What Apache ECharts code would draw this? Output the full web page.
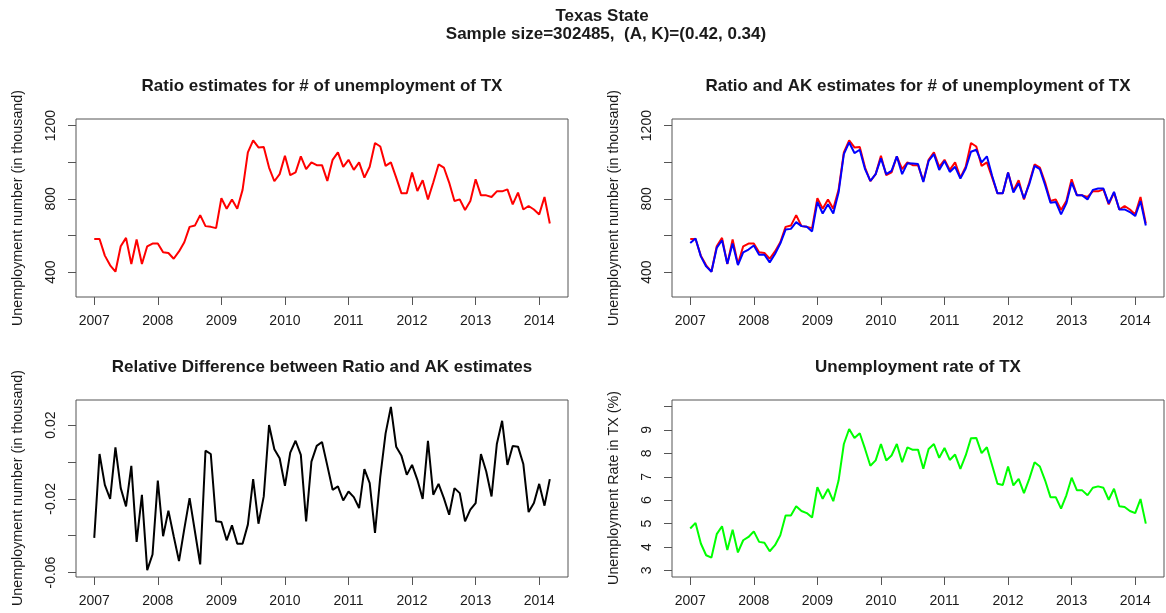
<!DOCTYPE html>
<html>
<head>
<meta charset="utf-8">
<script src="https://cdn.jsdelivr.net/npm/echarts@6/dist/echarts.min.js"></script>
<style>
html,body{margin:0;padding:0;background:#fff;}
#chart{width:1166px;height:613px;}
</style>
</head>
<body>
<div id="chart"></div>
<script>
// Monthly series, Jan 2007 .. Mar 2014
const startYear = 2007;
const yearTicks = [2007, 2008, 2009, 2010, 2011, 2012, 2013, 2014];

const ratioEst = [
  581, 581, 490, 437, 402, 541, 587, 444, 578, 444, 541, 556,
  556, 508, 504, 473, 513, 563, 647, 654, 711, 651, 647, 640,
  803, 746, 797, 746, 849, 1054, 1119, 1081, 1083, 971, 896, 935,
  1035, 929, 944, 1032, 962, 999, 984, 984, 898, 1013, 1054, 975,
  1013, 958, 999, 916, 975, 1105, 1086, 980, 999, 916, 830, 830,
  944, 843, 902, 797, 889, 988, 971, 889, 788, 797, 739, 788,
  907, 819, 819, 810, 841, 841, 852, 770, 834, 742, 761, 742,
  715, 810, 665
];

const akEst = [
  559, 583, 486, 431, 402, 532, 574, 446, 556, 438, 508, 523,
  545, 495, 495, 453, 499, 556, 632, 636, 673, 651, 647, 622,
  783, 720, 770, 720, 834, 1044, 1108, 1050, 1068, 962, 898, 935,
  1021, 935, 953, 1032, 935, 995, 993, 990, 892, 1007, 1044, 958,
  1007, 947, 975, 911, 966, 1057, 1068, 999, 1032, 925, 830, 830,
  944, 834, 885, 803, 880, 980, 962, 874, 779, 783, 715, 775,
  889, 819, 819, 797, 849, 856, 856, 775, 838, 742, 742, 728,
  706, 788, 654
];

const relDiff = [
  -0.0412, 0.0043, -0.0124, -0.0201, 0.0079, -0.0142, -0.0241, -0.0021, -0.0434, -0.0178, -0.0587, -0.0502,
  -0.0101, -0.0403, -0.0264, -0.0403, -0.0538, -0.0363, -0.0196, -0.0376, -0.0556, 0.0061, 0.0043, -0.0322,
  -0.0326, -0.0425, -0.0344, -0.0444, -0.0444, -0.0340, -0.0093, -0.0335, -0.0187, 0.0200, 0.0069, 0.0020,
  -0.0129, 0.0051, 0.0115, 0.0038, -0.0322, 0.0002, 0.0087, 0.0108, -0.0020, -0.0151, -0.0133, -0.0209,
  -0.0160, -0.0191, -0.0250, -0.0039, -0.0115, -0.0385, -0.0079, 0.0155, 0.0299, 0.0083, 0.0033, -0.0070,
  -0.0016, -0.0097, -0.0201, 0.0114, -0.0178, -0.0119, -0.0196, -0.0286, -0.0142, -0.0169, -0.0322, -0.0259,
  -0.0223, 0.0043, -0.0052, -0.0187, 0.0097, 0.0223, -0.0016, 0.0087, 0.0083, -0.0011, -0.0272, -0.0223,
  -0.0119, -0.0237, -0.0093
];

const unempRate = [
  4.79, 5.03, 4.15, 3.65, 3.55, 4.55, 4.89, 3.87, 4.74, 3.77, 4.29, 4.43,
  4.67, 4.22, 4.18, 3.82, 4.08, 4.50, 5.35, 5.35, 5.74, 5.54, 5.45, 5.26,
  6.56, 6.06, 6.48, 5.96, 6.84, 8.40, 9.04, 8.66, 8.86, 8.19, 7.47, 7.70,
  8.40, 7.70, 7.91, 8.40, 7.62, 8.26, 8.15, 8.16, 7.34, 8.19, 8.40, 7.81,
  8.23, 7.72, 7.95, 7.34, 7.91, 8.65, 8.66, 8.01, 8.26, 7.48, 6.70, 6.65,
  7.44, 6.63, 6.91, 6.30, 6.91, 7.62, 7.44, 6.84, 6.13, 6.13, 5.64, 6.21,
  6.96, 6.42, 6.42, 6.21, 6.53, 6.59, 6.53, 6.02, 6.49, 5.74, 5.71, 5.54,
  5.45, 6.05, 5.00
];

const countTicks = [400, 600, 800, 1000, 1200];
const countLabels = [400, 800, 1200];
const diffTicks = [-0.06, -0.04, -0.02, 0, 0.02];
const diffLabels = [-0.06, -0.02, 0.02];
const rateTicks = [3, 4, 5, 6, 7, 8, 9, 10];
const rateLabels = [3, 4, 5, 6, 7, 8, 9];

const mainTitle1 = 'Texas State';
const mainTitle2 = 'Sample size=302485,  (A, K)=(0.42, 0.34)';
const panelTitles = [
  'Ratio estimates for # of unemployment of TX',
  'Ratio and AK estimates for # of unemployment of TX',
  'Relative Difference between Ratio and AK estimates',
  'Unemployment rate of TX'
];
const yNames = [
  'Unemployment number (in thousand)',
  'Unemployment number (in thousand)',
  'Unemployment number (in thousand)',
  'Unemployment Rate in TX (%)'
];

const FONT = "'Liberation Sans', Arial, sans-serif";
const TXT = '#1a1a1a';
const AX = '#555';

const toXY = arr => arr.map((v, i) => [startYear + i / 12, v]);

const grids = [
  {left: 76, top: 119, width: 492, height: 178},
  {left: 672, top: 119, width: 492, height: 178},
  {left: 76, top: 400, width: 492, height: 177},
  {left: 672, top: 400, width: 492, height: 177}
];

function xAxisDef(gi) {
  return {
    type: 'value', gridIndex: gi, min: 2006.713, max: 2014.453, position: 'bottom',
    axisLine: {show: false, onZero: false},
    splitLine: {show: false},
    axisTick: {show: true, inside: false, length: 8, customValues: yearTicks, lineStyle: {color: AX, width: 1}},
    axisLabel: {show: true, customValues: yearTicks, margin: 17, color: TXT, fontSize: 14, fontFamily: FONT,
      formatter: v => String(Math.round(v))}
  };
}
function yAxisDef(gi, min, max, ticks, labels, fmt) {
  return {
    type: 'value', gridIndex: gi, min: min, max: max, position: 'left',
    axisLine: {show: false, onZero: false},
    splitLine: {show: false},
    axisTick: {show: true, inside: false, length: 8, customValues: ticks, lineStyle: {color: AX, width: 1}},
    axisLabel: {show: true, customValues: labels, rotate: 90, margin: 18, color: TXT, fontSize: 14, fontFamily: FONT,
      formatter: fmt}
  };
}

const graphics = [
  {type: 'text', x: 602, y: 16, style: {text: mainTitle1, font: "bold 17px " + FONT, fill: TXT, textAlign: 'center', textVerticalAlign: 'middle'}},
  {type: 'text', x: 606, y: 34, style: {text: mainTitle2, font: "bold 17px " + FONT, fill: TXT, textAlign: 'center', textVerticalAlign: 'middle'}}
];
const titlePos = [[322, 86], [918, 86], [322, 367], [918, 367]];
const yNamePos = [[18, 208], [614, 208], [18, 488], [614, 488]];
for (let k = 0; k < 4; k++) {
  graphics.push({type: 'text', x: titlePos[k][0], y: titlePos[k][1],
    style: {text: panelTitles[k], font: "bold 17px " + FONT, fill: TXT, textAlign: 'center', textVerticalAlign: 'middle'}});
  graphics.push({type: 'text', x: yNamePos[k][0], y: yNamePos[k][1], rotation: Math.PI / 2,
    style: {text: yNames[k], font: "14.3px " + FONT, fill: TXT, textAlign: 'center', textVerticalAlign: 'middle'}});
}

const lineSeries = (name, data, color, gi) => ({
  name: name, type: 'line', xAxisIndex: gi, yAxisIndex: gi, data: toXY(data),
  showSymbol: false, symbol: 'none', smooth: false,
  lineStyle: {color: color, width: 2}, itemStyle: {color: color},
  emphasis: {disabled: true}, silent: true
});

const option = {
  animation: false,
  backgroundColor: '#fff',
  grid: grids.map(g => Object.assign({show: true, borderColor: AX, borderWidth: 1, backgroundColor: 'transparent'}, g)),
  xAxis: [0, 1, 2, 3].map(xAxisDef),
  yAxis: [
    yAxisDef(0, 264, 1236, countTicks, countLabels, v => String(Math.round(v))),
    yAxisDef(1, 264, 1236, countTicks, countLabels, v => String(Math.round(v))),
    yAxisDef(2, -0.0624, 0.0336, diffTicks, diffLabels, v => v.toFixed(2)),
    yAxisDef(3, 2.72, 10.28, rateTicks, rateLabels, v => String(Math.round(v)))
  ],
  graphic: graphics,
  series: [
    lineSeries('Ratio', ratioEst, '#ff0000', 0),
    lineSeries('Ratio', ratioEst, '#ff0000', 1),
    lineSeries('AK', akEst, '#0000ff', 1),
    lineSeries('RelDiff', relDiff, '#000000', 2),
    lineSeries('Rate', unempRate, '#00ff00', 3)
  ]
};

const chart = echarts.init(document.getElementById('chart'), null, {renderer: 'canvas'});
chart.setOption(option);
</script>
</body>
</html>
